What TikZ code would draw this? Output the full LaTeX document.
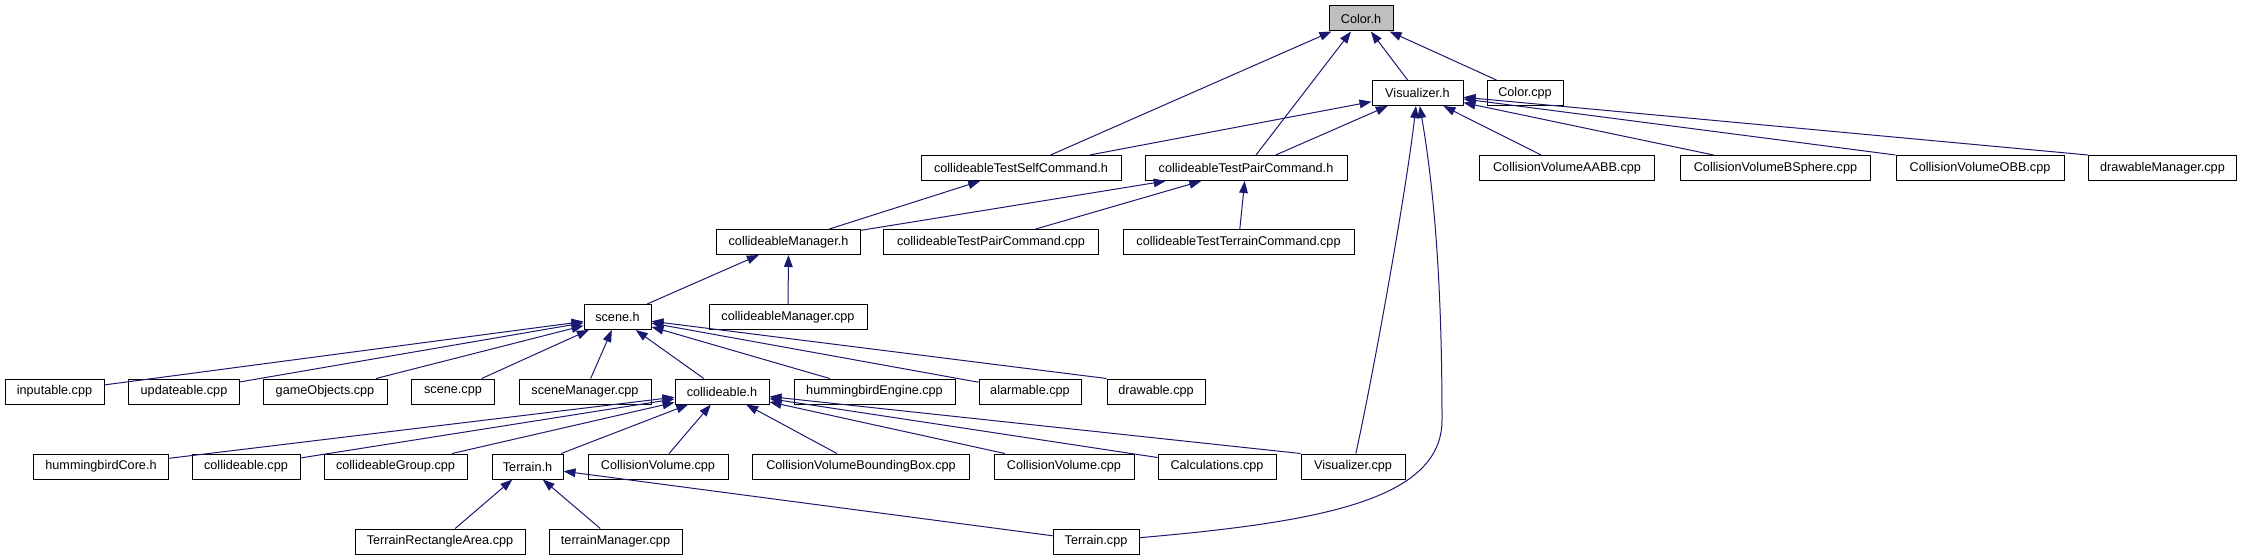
\documentclass[tikz,border=0pt]{standalone}
\usepackage{fontspec}
\setmainfont{Liberation Sans}
\usepackage{xcolor}
\usepackage{tikz}
\usetikzlibrary{arrows.meta}

\definecolor{edgeblue}{HTML}{191970}

\begin{document}
\begin{tikzpicture}[
      x=0.75pt, y=-0.75pt,
      every node/.style={draw, fill=white, line width=0.75pt, inner sep=0pt,
        minimum height=18.75pt, font=\fontsize{9.5}{11}\selectfont},
      bw/.style={minimum width=#1*0.75pt},
      dep/.style={draw=edgeblue, line width=0.75pt, -{Triangle[length=9pt,width=6.5pt]}}
    ]
      \useasboundingbox (0,0) rectangle (2242,560);

      % Row 0 and 1
      \node[bw=64, fill=gray!50] (colorh) at (1361,18.5) {Color.h};
      \node[bw=91] (vish) at (1417.5,93) {Visualizer.h};
      \node[bw=76] (colorcpp) at (1525,93) {Color.cpp};

      % Row 2
      \node[bw=200] (selfcmd) at (1021,168) {collideableTestSelfCommand.h};
      \node[bw=202] (paircmd) at (1246,168) {collideableTestPairCommand.h};
      \node[bw=175] (aabb) at (1567,168) {CollisionVolumeAABB.cpp};
      \node[bw=190] (bsphere) at (1775.5,168) {CollisionVolumeBSphere.cpp};
      \node[bw=168] (obb) at (1980,168) {CollisionVolumeOBB.cpp};
      \node[bw=148] (drawmgr) at (2162.5,168) {drawableManager.cpp};

      % Row 3
      \node[bw=144] (colmgrh) at (788.5,242) {collideableManager.h};
      \node[bw=215] (paircpp) at (991,242) {collideableTestPairCommand.cpp};
      \node[bw=231] (terraincmd) at (1238.5,242) {collideableTestTerrainCommand.cpp};

      % Row 4
      \node[bw=67] (sceneh) at (617.5,317) {scene.h};
      \node[bw=158] (colmgrcpp) at (788,317) {collideableManager.cpp};

      % Row 5
      \node[bw=99] (inputable) at (54.5,391.5) {inputable.cpp};
      \node[bw=111] (updateable) at (184,391.5) {updateable.cpp};
      \node[bw=124] (gameobj) at (325,391.5) {gameObjects.cpp};
      \node[bw=83] (scenecpp) at (453,391.5) {scene.cpp};
      \node[bw=132] (scenemgr) at (585,391.5) {sceneManager.cpp};
      \node[bw=94] (colh) at (722,391.5) {collideable.h};
      \node[bw=161] (hbengine) at (874.5,391.5) {hummingbirdEngine.cpp};
      \node[bw=102] (alarm) at (1030,391.5) {alarmable.cpp};
      \node[bw=98] (drawable) at (1156,391.5) {drawable.cpp};

      % Row 6
      \node[bw=135] (hbcore) at (101,466.5) {hummingbirdCore.h};
      \node[bw=108] (colcpp) at (246,466.5) {collideable.cpp};
      \node[bw=143] (colgroup) at (395.5,466.5) {collideableGroup.cpp};
      \node[bw=71] (terrainh) at (527.5,466.5) {Terrain.h};
      \node[bw=140] (cvolA) at (658,466.5) {CollisionVolume.cpp};
      \node[bw=217] (cvbb) at (861,466.5) {CollisionVolumeBoundingBox.cpp};
      \node[bw=140] (cvolB) at (1064,466.5) {CollisionVolume.cpp};
      \node[bw=118] (calc) at (1217,466.5) {Calculations.cpp};
      \node[bw=104] (viscpp) at (1353,466.5) {Visualizer.cpp};

      % Row 7
      \node[bw=170] (terrainrect) at (440,541.5) {TerrainRectangleArea.cpp};
      \node[bw=133] (terrainmgr) at (615.5,541.5) {terrainManager.cpp};
      \node[bw=86] (terraincpp) at (1096,541.5) {Terrain.cpp};

      % Includes of Color.h and Visualizer.h
      \foreach \src in {selfcmd, paircmd, vish, colorcpp}
        \draw[dep] (\src) -- (colorh);
      \foreach \src in {selfcmd, paircmd, aabb, bsphere}
        \draw[dep] (\src) -- (vish);
      \draw[dep] (obb.north west) -- (vish);
      \draw[dep] (drawmgr.north west) -- (vish);
      \draw[dep] (viscpp) .. controls (1372,380) and (1405,200) .. (vish);
      \draw[dep] (terraincpp) .. controls (1320,522) and (1442,500) .. (1442,420)
        .. controls (1442,300) and (1436,200) .. (vish);

      % Middle levels
      \draw[dep] (colmgrh) -- (selfcmd);
      \foreach \src in {colmgrh, paircpp, terraincmd}
        \draw[dep] (\src) -- (paircmd);
      \foreach \src in {sceneh, colmgrcpp}
        \draw[dep] (\src) -- (colmgrh);
      \foreach \src in {inputable, updateable, gameobj, scenecpp, scenemgr, colh, hbengine, alarm}
        \draw[dep] (\src) -- (sceneh);
      \draw[dep] (drawable.north west) -- (sceneh);

      % Lower levels
      \foreach \src in {hbcore, colcpp, colgroup, terrainh, cvolA, cvbb, cvolB, calc}
        \draw[dep] (\src) -- (colh);
      \draw[dep] (viscpp.north west) -- (colh);
      \foreach \src in {terrainrect, terrainmgr, terraincpp}
        \draw[dep] (\src) -- (terrainh);
    \end{tikzpicture}
\end{document}
